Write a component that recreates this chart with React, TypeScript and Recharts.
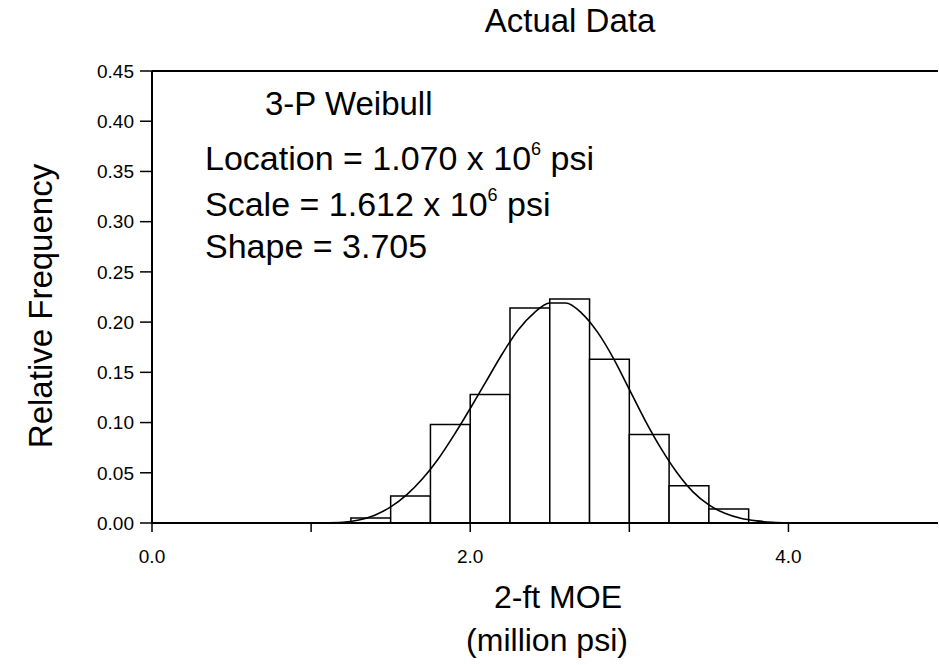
import { ComposedChart, Line, XAxis, YAxis, ReferenceArea, ReferenceLine } from "recharts";

// histogram bins (million psi), bin width 0.25
const binStart = [1.25, 1.5, 1.75, 2.0, 2.25, 2.5, 2.75, 3.0, 3.25, 3.5];
const binEnd = [1.5, 1.75, 2.0, 2.25, 2.5, 2.75, 3.0, 3.25, 3.5, 3.75];
const relFreq = [0.005, 0.027, 0.098, 0.128, 0.214, 0.223, 0.163, 0.088, 0.037, 0.014];

// fitted 3-P Weibull curve
const curveX = [1.07, 1.2, 1.3, 1.4, 1.5, 1.6, 1.7, 1.8, 1.9, 2.0, 2.1, 2.2, 2.3, 2.4, 2.5, 2.6, 2.7, 2.8, 2.9, 3.0, 3.1, 3.2, 3.3, 3.4, 3.5, 3.6, 3.7, 3.8, 3.9, 4.0, 4.2, 4.94];
const curveY = [0, 0.0006, 0.003, 0.0078, 0.016, 0.028, 0.044, 0.064, 0.088, 0.114, 0.141, 0.168, 0.192, 0.209, 0.219, 0.219, 0.209, 0.19, 0.164, 0.133, 0.102, 0.074, 0.05, 0.031, 0.018, 0.0096, 0.0047, 0.0021, 0.0008, 0.0003, 0, 0];

const xTicks = [0, 1, 2, 3, 4];
const yTicks = [0, 0.05, 0.1, 0.15, 0.2, 0.25, 0.3, 0.35, 0.4, 0.45];

const curve = curveX.map((x, i) => ({ x, y: curveY[i] }));

const font = "'Liberation Sans', Arial, Helvetica, sans-serif";

export default function App() {
    return (
        <div style={{ position: "absolute", left: 0, top: 0, fontFamily: font }}>
            <ComposedChart
                width={939}
                height={665}
                data={curve}
                margin={{ top: 71, right: 1, bottom: 112, left: 92 }}
            >
                <XAxis
                    type="number"
                    dataKey="x"
                    domain={[0, 4.94]}
                    ticks={xTicks}
                    allowDataOverflow
                    height={30}
                    tickSize={9}
                    tickMargin={18}
                    tickFormatter={(v: number) => (v % 2 === 0 ? v.toFixed(1) : "")}
                    tick={{ fill: "#000", fontSize: 19, fontFamily: font }}
                    axisLine={{ stroke: "#000", strokeWidth: 2 }}
                    tickLine={{ stroke: "#000", strokeWidth: 1.5 }}
                />
                <YAxis
                    type="number"
                    domain={[0, 0.45]}
                    ticks={yTicks}
                    width={60}
                    tickSize={12}
                    tickMargin={6}
                    tickFormatter={(v: number) => v.toFixed(2)}
                    tick={{ fill: "#000", fontSize: 19, fontFamily: font }}
                    axisLine={{ stroke: "#000", strokeWidth: 2 }}
                    tickLine={{ stroke: "#000", strokeWidth: 1.5 }}
                />
                <ReferenceLine y={0.45} stroke="#000" strokeWidth={2} />
                {binStart.map((b, i) => (
                    <ReferenceArea
                        key={b}
                        x1={b}
                        x2={binEnd[i]}
                        y1={0}
                        y2={relFreq[i]}
                        fill="#fff"
                        fillOpacity={1}
                        stroke="#000"
                        strokeWidth={1.5}
                    />
                ))}
                <Line
                    type="monotone"
                    dataKey="y"
                    stroke="#000"
                    strokeWidth={1.6}
                    dot={false}
                    isAnimationActive={false}
                />
                <text x={570} y={32} textAnchor="middle" fontSize={33} fontFamily={font} fill="#000">
                    Actual Data
                </text>
                <text x={265} y={115} fontSize={33} fontFamily={font} fill="#000">
                    3-P Weibull
                </text>
                <text x={205} y={170} fontSize={34} fontFamily={font} fill="#000">
                    Location = 1.070 x 10
                    <tspan fontSize={18} dy={-15}>6</tspan>
                    <tspan dy={15}> psi</tspan>
                </text>
                <text x={205} y={216} fontSize={34} fontFamily={font} fill="#000">
                    Scale = 1.612 x 10
                    <tspan fontSize={18} dy={-15}>6</tspan>
                    <tspan dy={15}> psi</tspan>
                </text>
                <text x={205} y={258} fontSize={34} fontFamily={font} fill="#000">
                    Shape = 3.705
                </text>
                <text x={558} y={608} textAnchor="middle" fontSize={32} fontFamily={font} fill="#000">
                    2-ft MOE
                </text>
                <text x={547} y={651} textAnchor="middle" fontSize={32} fontFamily={font} fill="#000">
                    (million psi)
                </text>
                <text
                    x={52}
                    y={306}
                    textAnchor="middle"
                    fontSize={33}
                    fontFamily={font}
                    fill="#000"
                    transform="rotate(-90 52 306)"
                >
                    Relative Frequency
                </text>
            </ComposedChart>
        </div>
    );
}
